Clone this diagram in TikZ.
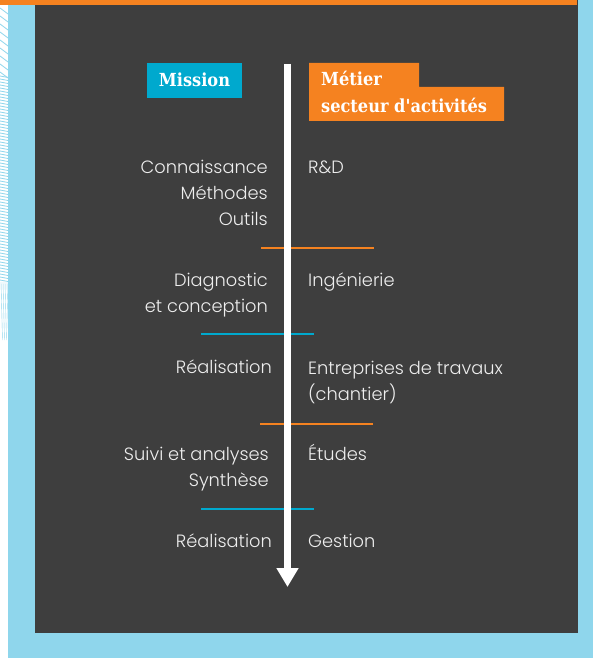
\documentclass[tikz,border=0pt]{standalone}
\usepackage{fontspec}
\setmainfont{Poppins}[UprightFont=* Light]
\newfontfamily\titlefont{DejaVu Serif}[FakeStretch=0.9]
\usetikzlibrary{arrows.meta}
\definecolor{bgblue}{HTML}{8FD6EC}
\definecolor{panel}{HTML}{3E3E3E}
\definecolor{orng}{HTML}{F58220}
\definecolor{cyanb}{HTML}{00A9CE}
\definecolor{txt}{HTML}{EEEEEE}
\tikzset{
  lbl/.style={text=txt, font=\fontsize{17.8}{22}\selectfont, inner sep=0pt},
  lft/.style={lbl, anchor=base east},
  rgt/.style={lbl, anchor=base west},
  ttl/.style={text=white, font=\titlefont\bfseries\fontsize{18}{22}\selectfont, inner sep=0pt},
  sepo/.style={draw=orng, line width=2.5pt},
  sepc/.style={draw=cyanb, line width=2.5pt},
  patt/.style={draw=bgblue, line width=0.8pt},
}
\begin{document}
\begin{tikzpicture}[x=1pt,y=-1pt]
\useasboundingbox (0,0) rectangle (593,658);
% background
\fill[bgblue] (0,0) rectangle (593,658);
\fill[white] (0,0) rectangle (8,658);
% left pattern
\foreach \y in {8,16,...,72} \draw[patt] (0,\y) -- (8,\y+6);
\foreach \y in {76,79,...,280} \draw[patt] (0,\y) -- (8,\y+1.5);
\foreach \x in {1,3,5,7} \draw[bgblue, line width=0.4pt] (\x,282) -- (\x+1.5,340);
\fill[panel] (35,0) rectangle (578,633);
\fill[orng] (0,0) rectangle (577,5);
% headers
\fill[cyanb] (147,63) rectangle (242,98);
\node[ttl, anchor=base] (mission) at (194.5,86.5) {Mission};
\fill[orng] (309,63) -- (419,63) -- (419,87) -- (504,87) -- (504,121) -- (309,121) -- cycle;
\node[ttl, anchor=base west] (metier) at (321,86) {Métier};
\node[ttl, anchor=base west] (secteur) at (321,112.5) {secteur d'activités};
% separators
\coordinate (s1a) at (261,248); \coordinate (s1b) at (374,248);
\coordinate (s2a) at (201,334); \coordinate (s2b) at (314,334);
\coordinate (s3a) at (260,424); \coordinate (s3b) at (373,424);
\coordinate (s4a) at (201,509); \coordinate (s4b) at (314,509);
\draw[sepo] (s1a) -- (s1b);
\draw[sepc] (s2a) -- (s2b);
\draw[sepo] (s3a) -- (s3b);
\draw[sepc] (s4a) -- (s4b);
% arrow
\coordinate (atop) at (287.5,64);
\coordinate (abot) at (287.5,587);
\draw[white, line width=7pt, -{Triangle[width=21pt,length=19pt]}] (atop) -- (abot);
% left column
\node[lft] (l1) at (268,173) {Connaissance};
\node[lft] (l2) at (268,199) {Méthodes};
\node[lft] (l3) at (268,225) {Outils};
\node[lft] (l4) at (268,286) {Diagnostic};
\node[lft] (l5) at (268,312) {et conception};
\node[lft] (l6) at (272,373) {Réalisation};
\node[lft] (l7) at (269,460) {Suivi et analyses};
\node[lft] (l8) at (269,486) {Synthèse};
\node[lft] (l9) at (272,547) {Réalisation};
% right column
\node[rgt] (r1) at (308,173) {R\&D};
\node[rgt] (r2) at (308,286) {Ingénierie};
\node[rgt] (r3) at (308,374) {Entreprises de travaux};
\node[rgt] (r4) at (308,400) {(chantier)};
\node[rgt] (r5) at (308,460) {Études};
\node[rgt] (r6) at (308,547) {Gestion};
\end{tikzpicture}
\end{document}
